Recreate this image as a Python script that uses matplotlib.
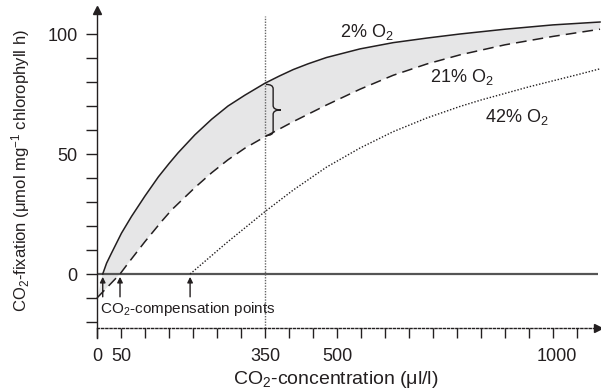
import numpy as np
import matplotlib
matplotlib.use("Agg")
import matplotlib.pyplot as plt
from matplotlib.path import Path
from matplotlib.patches import PathPatch

plt.rcParams["font.family"] = ["Liberation Sans", "DejaVu Sans"]
plt.rcParams["mathtext.fontset"] = "custom"
plt.rcParams["mathtext.rm"] = "Liberation Sans"
plt.rcParams["mathtext.it"] = "Liberation Sans:italic"
plt.rcParams["mathtext.default"] = "rm"

INK = "#231f20"

# CO2 fixation curves at three O2 levels
co2_low = [12, 20, 30, 51, 72, 100, 128, 150, 169, 204, 239, 273, 308, 350,
           380, 409, 440, 478, 548, 617, 687, 756, 850, 950, 1048]
fix_low = [0, 4.5, 8.6, 17, 24, 32.5, 40.5, 46, 50.5, 58, 64.5, 70, 74.5, 79.5,
           82.5, 85.2, 87.6, 90.2, 93.8, 96.4, 98.3, 100, 102, 103.8, 105]

co2_mid = [0, 48, 65, 100, 135, 156, 204, 239, 273, 308, 350, 409, 478,
           548, 617, 687, 756, 850, 950, 1048]
fix_mid = [-10, 0, 4.5, 13.5, 22, 26.8, 36, 42.2, 47.6, 52.4, 57.2, 63.5, 70.4,
           77, 82.8, 87.5, 91.3, 95.5, 99, 102]

co2_high = [194, 270, 350, 409, 478, 548, 617, 687, 756, 800, 900, 1000, 1048]
fix_high = [0, 13, 26, 35, 44.5, 52.5, 59.3, 65, 69.8, 72.5, 78, 83, 85.5]

compensation_points = [12, 48, 194]

x_ticks = list(range(0, 1001, 50))
x_tick_labels = {0: "0", 50: "50", 350: "350", 500: "500", 1000: "1000"}
y_ticks = list(range(-20, 101, 10))
y_tick_labels = {0: "0", 50: "50", 100: "100"}

ambient_co2 = 350
x_axis_level = -22.5

fig = plt.figure(figsize=(6.01, 3.91), dpi=100)
ax = fig.add_axes([0, 0, 1, 1])
ax.set_xlim(-202, 1050)
ax.set_ylim(-48.75, 114.17)
ax.patch.set_visible(False)

# axes: left spine at x=0, dotted bottom spine below the zero line
for s in ("top", "right"):
    ax.spines[s].set_visible(False)
ax.spines["left"].set_position(("data", 0))
ax.spines["left"].set_bounds(-26.6, 108)
ax.spines["left"].set_color(INK)
ax.spines["left"].set_linewidth(1.0)
ax.spines["bottom"].set_position(("data", x_axis_level))
ax.spines["bottom"].set_bounds(0, 1040)
ax.spines["bottom"].set_linestyle((0, (1.5, 1.5)))
ax.spines["bottom"].set_color(INK)
ax.spines["bottom"].set_linewidth(1.0)

ax.set_xticks(x_ticks)
ax.set_xticklabels([x_tick_labels.get(t, "") for t in x_ticks])
ax.set_yticks(y_ticks)
ax.set_yticklabels([y_tick_labels.get(t, "") for t in y_ticks])
ax.tick_params(axis="x", direction="out", length=7.3, width=1.0, pad=7,
               labelsize=13, colors=INK)
ax.tick_params(axis="y", direction="out", length=7.9, width=1.0, pad=6,
               labelsize=13, colors=INK)
for t, lab in zip(x_ticks, ax.get_xticklabels()):
    if t == 1000:
        lab.set_horizontalalignment("right")

# arrow heads on the axes
ax.plot([0], [110], marker="^", color=INK, markersize=6, clip_on=False)
ax.plot([1043], [x_axis_level], marker=">", color=INK, markersize=6, clip_on=False)

# zero line and ambient CO2 marker
ax.plot([0, 1044], [0, 0], color="#555555", lw=1.6, solid_capstyle="butt")
ax.plot([ambient_co2, ambient_co2], [x_axis_level, 107.5], color="#666666",
        lw=1.0, ls=(0, (1, 1)))

# shaded band between 2% and 21% O2
poly_x = np.concatenate([co2_low, co2_mid[::-1]])
poly_y = np.concatenate([fix_low, fix_mid[::-1]])
ax.fill(poly_x, poly_y, color="#e6e6e7", lw=0, zorder=1)

ax.plot(co2_low, fix_low, color=INK, lw=1.1, zorder=3)
ax.plot(co2_mid, fix_mid, color=INK, lw=1.1, ls=(0, (7, 4)), zorder=3)
ax.plot(co2_high, fix_high, color=INK, lw=1.0, ls=(0, (1, 1.3)), zorder=3)

# curly brace at ambient CO2
ytop = float(np.interp(ambient_co2, co2_low, fix_low)) - 0.5
ybot = float(np.interp(ambient_co2, co2_mid, fix_mid)) + 0.5
ymid = (ytop + ybot) / 2
x0, xs, xt, d = ambient_co2 + 2, ambient_co2 + 17, ambient_co2 + 33, 1.8
verts = [(x0, ytop), (xs, ytop), (xs, ytop - d),
         (xs, ymid + d), (xs, ymid), (xt, ymid),
         (xs, ymid), (xs, ymid - d),
         (xs, ybot + d), (xs, ybot), (x0, ybot)]
codes = [Path.MOVETO, Path.CURVE3, Path.CURVE3,
         Path.LINETO, Path.CURVE3, Path.CURVE3,
         Path.CURVE3, Path.CURVE3,
         Path.LINETO, Path.CURVE3, Path.CURVE3]
ax.add_patch(PathPatch(Path(verts, codes), fill=False, ec=INK, lw=1.0, zorder=4))

# compensation point arrows
for cp in compensation_points:
    ax.annotate("", xy=(cp, -1.2), xytext=(cp, -9.5),
                arrowprops=dict(arrowstyle="-|>", color=INK, lw=1.0,
                                mutation_scale=8, shrinkA=0, shrinkB=0))
ax.text(6, -14.5, "CO$_2$-compensation points", fontsize=11, color=INK,
        ha="left", va="center")

# curve labels
ax.text(562, 101, "2% O$_2$", fontsize=13, color=INK, ha="center", va="center")
ax.text(761, 82, "21% O$_2$", fontsize=13, color=INK, ha="center", va="center")
ax.text(875, 65.5, "42% O$_2$", fontsize=13, color=INK, ha="center", va="center")

# axis titles
ax.text(498, -44, "CO$_2$-concentration (μl/l)", fontsize=14, color=INK,
        ha="center", va="center")
ax.text(-159, 43, "CO$_2$-fixation (μmol mg$^{-1}$ chlorophyll h)", fontsize=12,
        color=INK, ha="center", va="center", rotation=90)

fig.savefig("out.png", dpi=100)
